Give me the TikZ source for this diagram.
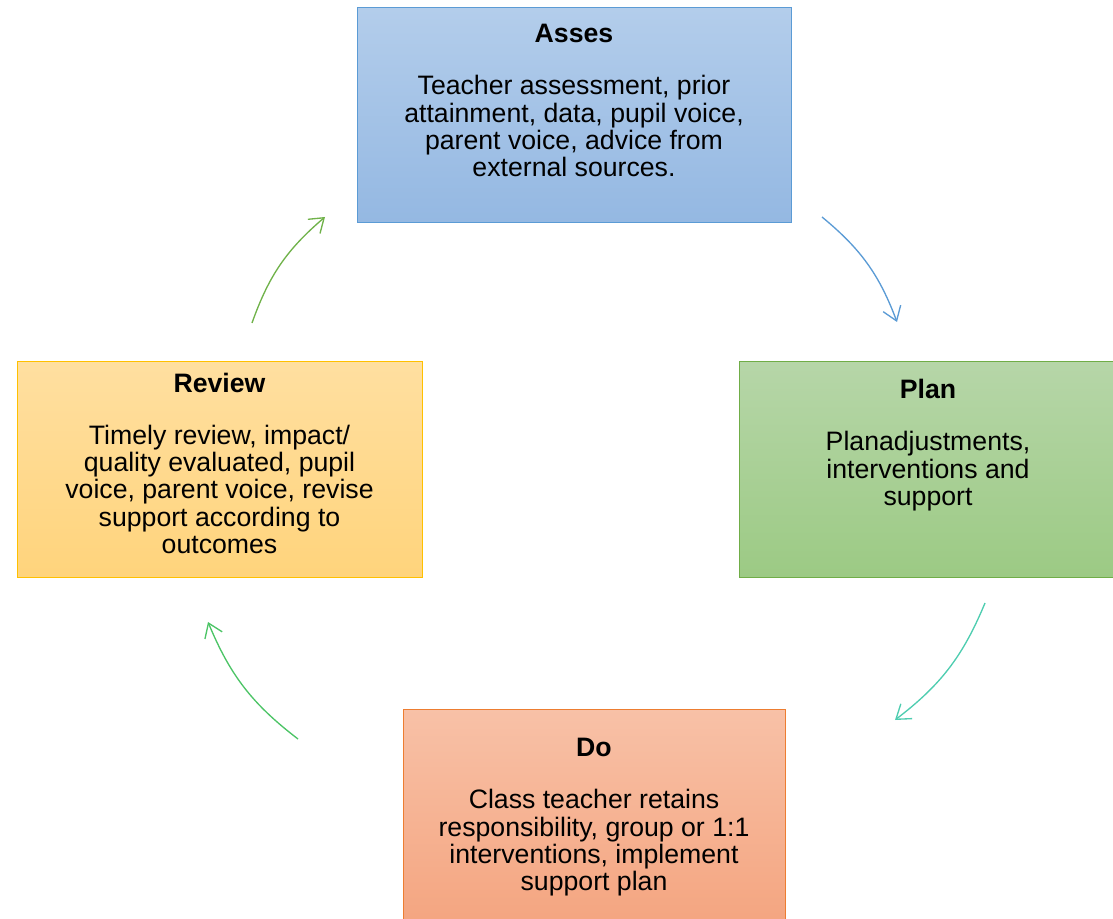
\documentclass[tikz,border=0pt]{standalone}
\usepackage{fontspec}
\setmainfont{Liberation Sans}
\usetikzlibrary{positioning, arrows.meta}

\definecolor{assesline}{HTML}{5B9BD5}
\definecolor{assestop}{HTML}{B3CDEB}
\definecolor{assesbot}{HTML}{94B8E2}
\definecolor{planline}{HTML}{70AD47}
\definecolor{plantop}{HTML}{B6D6A8}
\definecolor{planbot}{HTML}{9CCA84}
\definecolor{reviewline}{HTML}{FFC000}
\definecolor{reviewtop}{HTML}{FFDFA0}
\definecolor{reviewbot}{HTML}{FFD47C}
\definecolor{doline}{HTML}{ED7D31}
\definecolor{dotop}{HTML}{F8C1A7}
\definecolor{dobot}{HTML}{F4A580}
\definecolor{arrowblue}{HTML}{5B9BD5}
\definecolor{arrowteal}{HTML}{4ECDB0}
\definecolor{arrowgreen}{HTML}{4CC466}
\definecolor{arrowleaf}{HTML}{70B24A}

\begin{document}
\begin{tikzpicture}[x=0.75pt,y=-0.75pt,
        stage/.style={rectangle,line width=0.75pt,minimum height=161.25pt},
        words/.style={align=center,inner sep=0pt,font=\fontsize{20pt}{20.5pt}\selectfont},
        cycle/.style={line width=1pt,-{Straight Barb[length=10pt,width=14pt,line width=1pt]}}]
        \useasboundingbox (0,0) rectangle (1113,919);

        % boxes
        \node[stage,draw=assesline,top color=assestop,bottom color=assesbot,minimum width=325.5pt] (asses) at (574,115.5) {};
        \node[stage,draw=planline,top color=plantop,bottom color=planbot,minimum width=283.5pt] (plan) at (928,469.5) {};
        \node[stage,draw=doline,top color=dotop,bottom color=dobot,minimum width=286.5pt] (do) at (594,816.5) {};
        \node[stage,draw=reviewline,top color=reviewtop,bottom color=reviewbot,minimum width=303.75pt] (review) at (219.5,469.5) {};

        % texts
        \node[words,below=12.5pt of asses.north] (assestext) {\textbf{Asses}\\[18.5pt]
            Teacher assessment, prior\\ attainment, data, pupil voice,\\ parent voice, advice from\\ external sources.};
        \node[words,below=13.3pt of plan.north] (plantext) {\textbf{Plan}\\[18.5pt]
            Planadjustments,\\ interventions and\\ support};
        \node[words,below=22.3pt of do.north] (dotext) {\textbf{Do}\\[18.5pt]
            Class teacher retains\\ responsibility, group or 1:1\\ interventions, implement\\ support plan};
        \node[words,below=8.4pt of review.north] (reviewtext) {\textbf{Review}\\[18.5pt]
            Timely review, impact/\\ quality evaluated, pupil\\ voice, parent voice, revise\\ support according to\\ outcomes};

        % arrows
        \coordinate (a1) at (822,217);
        \coordinate (a2) at (897,322);
        \coordinate (b1) at (985,603);
        \coordinate (b2) at (895,720);
        \coordinate (c1) at (298,739);
        \coordinate (c2) at (208,622);
        \coordinate (d1) at (252,323);
        \coordinate (d2) at (325,217);

        \draw[cycle,arrowblue]  (a1) to[bend left=15] (a2);
        \draw[cycle,arrowteal]  (b1) to[bend left=15] (b2);
        \draw[cycle,arrowgreen] (c1) to[bend left=15] (c2);
        \draw[cycle,arrowleaf]  (d1) to[bend left=15] (d2);
\end{tikzpicture}
\end{document}
